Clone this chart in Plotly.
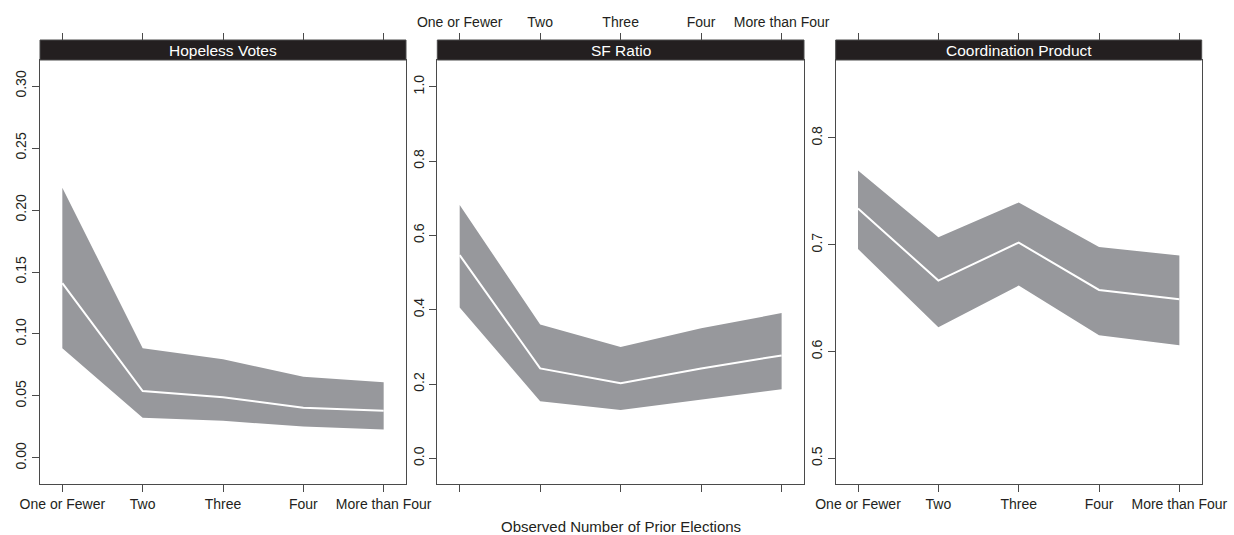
import plotly.graph_objects as go

categories = ["One or Fewer", "Two", "Three", "Four", "More than Four"]
panel_titles = ["Hopeless Votes", "SF Ratio", "Coordination Product"]

hopeless_mean = [0.141, 0.054, 0.049, 0.0406, 0.038]
hopeless_lower = [0.0885, 0.0325, 0.030, 0.0253, 0.023]
hopeless_upper = [0.218, 0.0885, 0.0796, 0.0656, 0.061]

sf_mean = [0.547, 0.242, 0.202, 0.242, 0.277]
sf_lower = [0.406, 0.154, 0.130, 0.159, 0.186]
sf_upper = [0.682, 0.360, 0.300, 0.350, 0.391]

coord_mean = [0.734, 0.6665, 0.702, 0.6577, 0.649]
coord_lower = [0.696, 0.6228, 0.6618, 0.6153, 0.606]
coord_upper = [0.7696, 0.707, 0.7396, 0.698, 0.690]

y_ticks = [
    [0.00, 0.05, 0.10, 0.15, 0.20, 0.25, 0.30],
    [0.0, 0.2, 0.4, 0.6, 0.8, 1.0],
    [0.5, 0.6, 0.7, 0.8],
]
y_formats = [".2f", ".1f", ".1f"]
y_ranges = [[-0.021, 0.321], [-0.069, 1.072], [0.476, 0.873]]

W, H = 1234, 535
FONT = "Liberation Sans, Arial, Helvetica, sans-serif"
INK = "#231f20"
AXC = "#4a4a4a"
BAND = "#97989c"

x_dom = [(40 / W, 406 / W), (437.3 / W, 804 / W), (835.7 / W, 1201.7 / W)]
plot_bottom = 1 - 484 / H
plot_top = 1 - 60 / H
strip_top = 1 - 40 / H

xpos = list(range(1, len(categories) + 1))
xrange_ = [0.722, 5.278]

series = [
    (hopeless_lower, hopeless_mean, hopeless_upper),
    (sf_lower, sf_mean, sf_upper),
    (coord_lower, coord_mean, coord_upper),
]

fig = go.Figure()
layout = dict(
    width=W, height=H,
    margin=dict(l=0, r=0, t=0, b=0),
    paper_bgcolor="white", plot_bgcolor="white",
    showlegend=False,
    font=dict(family=FONT, color=INK, size=14),
)
shapes = []
annotations = []

for i, (lo, mu, up) in enumerate(series):
    n = i + 1
    xa = "x" if n == 1 else f"x{n}"
    ya = "y" if n == 1 else f"y{n}"
    fig.add_trace(go.Scatter(x=xpos, y=lo, mode="lines", line=dict(width=0, color=BAND),
                             xaxis=xa, yaxis=ya, hoverinfo="skip"))
    fig.add_trace(go.Scatter(x=xpos, y=up, mode="lines", line=dict(width=0, color=BAND),
                             fill="tonexty", fillcolor=BAND, xaxis=xa, yaxis=ya, hoverinfo="skip"))
    fig.add_trace(go.Scatter(x=xpos, y=mu, mode="lines", line=dict(width=2, color="white"),
                             xaxis=xa, yaxis=ya))
    tn = n + 3
    fig.add_trace(go.Scatter(x=xpos, y=mu, mode="markers", marker=dict(opacity=0),
                             xaxis=f"x{tn}", yaxis=ya, hoverinfo="skip"))

    show_bottom_labels = (n != 2)
    layout["xaxis" if n == 1 else f"xaxis{n}"] = dict(
        domain=list(x_dom[i]), anchor=ya, range=xrange_,
        tickvals=xpos, ticktext=categories, ticks="outside", ticklen=7,
        tickcolor=AXC, showticklabels=show_bottom_labels,
        showline=True, mirror=True, linecolor=AXC, linewidth=1,
        showgrid=False, zeroline=False, automargin=False,
        tickfont=dict(size=14, color=INK, family=FONT),
    )
    layout["yaxis" if n == 1 else f"yaxis{n}"] = dict(
        domain=[plot_bottom, plot_top], anchor=xa, range=y_ranges[i],
        tickvals=y_ticks[i], tickformat=y_formats[i], tickangle=-90,
        ticks="outside", ticklen=7, tickcolor=AXC,
        showline=True, mirror=True, linecolor=AXC, linewidth=1,
        showgrid=False, zeroline=False, automargin=False,
        tickfont=dict(size=14, color=INK, family=FONT),
    )
    layout[f"xaxis{tn}"] = dict(
        overlaying=xa, side="top", anchor="free", position=strip_top,
        range=xrange_, tickvals=xpos, ticktext=categories,
        ticks="outside", ticklen=7, tickcolor=AXC,
        showticklabels=(n == 2), showline=False, showgrid=False, zeroline=False,
        automargin=False, tickfont=dict(size=14, color=INK, family=FONT),
    )
    shapes.append(dict(type="rect", xref="paper", yref="paper",
                       x0=x_dom[i][0], x1=x_dom[i][1], y0=plot_top, y1=strip_top,
                       fillcolor=INK, line=dict(color=AXC, width=1), layer="above"))
    annotations.append(dict(xref="paper", yref="paper",
                            x=(x_dom[i][0] + x_dom[i][1]) / 2, y=(plot_top + strip_top) / 2,
                            text=panel_titles[i], showarrow=False,
                            font=dict(color="white", size=15.5, family=FONT),
                            xanchor="center", yanchor="middle"))

annotations.append(dict(xref="paper", yref="paper", x=(x_dom[0][0] + x_dom[2][1]) / 2,
                        y=1 - 526 / H, text="Observed Number of Prior Elections",
                        showarrow=False, font=dict(size=15, color=INK, family=FONT),
                        xanchor="center", yanchor="middle"))

layout["shapes"] = shapes
layout["annotations"] = annotations
fig.update_layout(**layout)
fig.write_html("out.html", config={"displayModeBar": False},
               post_script="document.body.style.margin='0';document.body.style.padding='0';document.body.style.overflow='hidden';")
